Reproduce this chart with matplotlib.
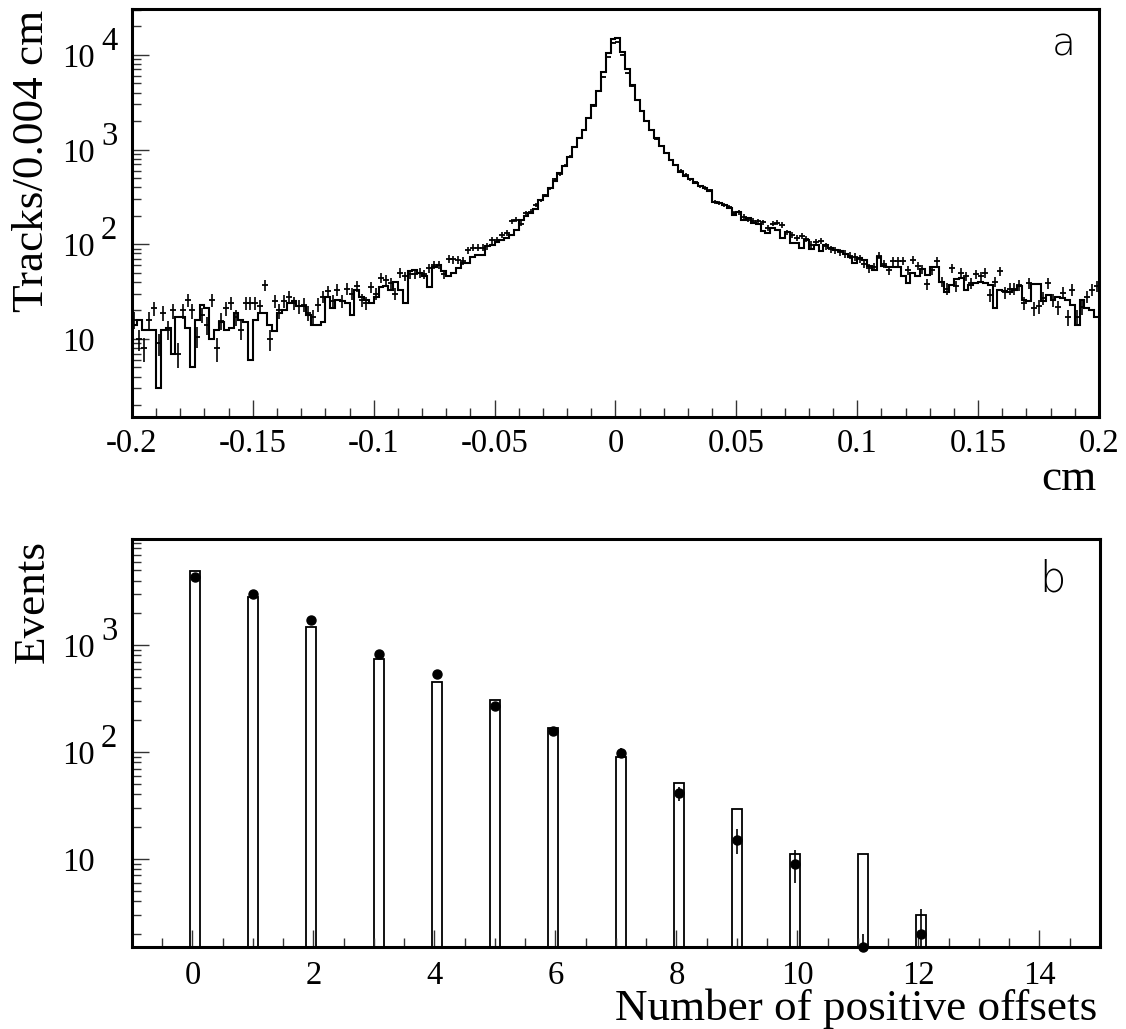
import numpy as np
import matplotlib
matplotlib.use("Agg")
import matplotlib.pyplot as plt
from matplotlib.transforms import offset_copy
from matplotlib.ticker import MultipleLocator, LogLocator, NullFormatter, FixedLocator

plt.rcParams['font.family'] = ['Liberation Serif', 'DejaVu Serif']

# ---- panel a : track offsets, 200 bins from -0.2 to 0.2 cm ----
mc_a = [14, 16, 12.5, 12.5, 12.5, 3, 12.5, 13, 7, 17,
        17, 13, 5, 16, 23, 21, 10, 12.5, 15, 12.5,
        13, 19, 16, 15, 6, 16, 19, 19, 14, 12,
        19, 20, 24, 25, 22, 22, 18, 14, 14, 15,
        28, 21, 26, 25, 24, 18, 33, 28, 26, 24,
        28, 35, 36, 33, 40, 33, 24, 52, 54, 50,
        46, 35, 58, 60, 52, 46, 50, 56, 64, 63,
        74, 77, 77, 95, 97, 105, 111, 116, 125, 142,
        181, 200, 216, 237, 290, 320, 390, 470, 560, 662,
        843, 1075, 1320, 1614, 2140, 2960, 4100, 6660, 10400, 14700,
        15000, 10800, 7050, 4820, 3340, 2580, 2020, 1614, 1320, 1094,
        916, 779, 690, 586, 528, 487, 442, 414, 392, 361,
        276, 273, 261, 241, 205, 217, 181, 188, 167, 165,
        137, 131, 148, 140, 116, 136, 103, 103, 91, 112,
        89, 99, 84, 99, 91, 86, 84, 79, 74, 63,
        71, 68, 59, 54, 74, 59, 58, 58, 58, 46,
        39, 50, 46, 55, 47, 58, 58, 40, 31, 37,
        43, 44, 33, 37, 39, 40, 39, 37, 21, 33,
        32, 31, 33, 36, 26, 25, 38, 38, 25, 29,
        26, 28, 27, 26, 23, 14, 26, 21, 20, 17]

data_a = [16, 10, 8, 16, 21, 9, 19, 12.5, 20, 7,
          20, 26, 20, 10.6, 18, 14, 26, 8, 15.5, 21,
          24, 17, 12.5, 24, 24, 24, 22, 37, 10, 25,
          20, 25, 28, 24, 22, 23, 19, 17, 23, 28,
          32, 25, 33, 25, 34, 30, 36, 26, 24, 35,
          30, 44, 42, 39, 30, 50, 46, 48, 48, 50,
          48, 56, 61, 61, 48, 70, 69, 68, 67, 87,
          92, 92, 92, 95, 110, 111, 125, 132, 174, 181,
          165, 213, 221, 260, 290, 327, 390, 487, 550, 677,
          843, 1075, 1320, 1614, 2140, 2850, 4190, 5900, 9500, 13400,
          13700, 10000, 6400, 4680, 3340, 2530, 1990, 1614, 1300, 1094,
          916, 779, 690, 600, 540, 487, 450, 407, 392, 370,
          282, 273, 261, 250, 213, 217, 195, 181, 178, 175,
          170, 148, 165, 169, 160, 133, 126, 116, 121, 113,
          99, 105, 108, 95, 89, 86, 82, 79, 76, 73,
          70, 62, 56, 58, 76, 62, 53, 66, 66, 67,
          53, 68, 59, 55, 38, 53, 66, 40, 34, 56,
          36, 50, 46, 39, 48, 46, 50, 29, 40, 52,
          31, 34, 34, 37, 24, 39, 21, 22, 27, 39,
          26, 21.5, 30.5, 17, 33, 17, 21.5, 28, 33, 36]

xticks_a = [-0.2, -0.15, -0.1, -0.05, 0, 0.05, 0.1, 0.15, 0.2]
xlabels_a = ['-0.2', '-0.15', '-0.1', '-0.05', '0', '0.05', '0.1', '0.15', '0.2']

# ---- panel b : number of positive offsets ----
n_off = np.arange(13)
mc_b = [4900, 2830, 1460, 735, 454, 306, 166, 90, 51, 29, 11, 11, 3]
data_b = [4350, 3000, 1715, 824, 535, 269, 157, 98, 41, 15, 9, 1, 2]
xticks_b = [0, 2, 4, 6, 8, 10, 12, 14]

fig = plt.figure(figsize=(11.26, 10.29), dpi=100)
ax1 = fig.add_axes([0.1172, 0.5948, 0.8588, 0.3965])
ax2 = fig.add_axes([0.1172, 0.0797, 0.8597, 0.3965])

LABEL_FS = 32.5
TICK_FS = 23.5


def style_axes(ax):
    for s in ax.spines.values():
        s.set_linewidth(2.2)
    ax.tick_params(which='both', direction='in', top=False, right=False, width=1.0, color='#333333')
    ax.tick_params(which='major', length=12)
    ax.tick_params(which='minor', length=6.5)
    ax.tick_params(axis='x', labelsize=TICK_FS, pad=8)
    ax.set_yscale('log')
    ax.yaxis.set_major_locator(LogLocator(base=10, numticks=20))
    ax.yaxis.set_minor_locator(LogLocator(base=10, subs=np.arange(2, 10), numticks=20))
    ax.yaxis.set_major_formatter(NullFormatter())
    ax.yaxis.set_minor_formatter(NullFormatter())


def log_labels(ax, exps):
    base = ax.get_yaxis_transform()
    t1 = offset_copy(base, fig=fig, x=-37, y=-12, units='dots')
    t2 = offset_copy(base, fig=fig, x=-31, y=5, units='dots')
    for e in exps:
        ax.text(0, 10.0 ** e, '10', transform=t1, ha='right', va='baseline', fontsize=TICK_FS)
        if e > 1:
            ax.text(0, 10.0 ** e, str(e), transform=t2, ha='left', va='baseline', fontsize=TICK_FS)


# panel a
mc_a = np.array(mc_a, dtype=float)
data_a = np.array(data_a, dtype=float)
edges_a = np.linspace(-0.2, 0.2, len(mc_a) + 1)
cent_a = 0.5 * (edges_a[1:] + edges_a[:-1])

style_axes(ax1)
ax1.stairs(mc_a, edges_a, color='k', lw=1.5, baseline=None)
ax1.errorbar(cent_a, data_a, yerr=0.8 * np.sqrt(data_a), fmt='_', ms=5, mew=1.3,
             color='k', elinewidth=1.2, capsize=0)
ax1.set_xlim(-0.2, 0.2)
ax1.set_ylim(1.5, 3.05e4)
ax1.xaxis.set_major_locator(FixedLocator(xticks_a))
ax1.set_xticklabels(xlabels_a)
ax1.xaxis.set_minor_locator(MultipleLocator(0.01))
log_labels(ax1, [1, 2, 3, 4])
ax1.text(0.964, 0.912, 'a', transform=ax1.transAxes, ha='center', va='center',
         fontsize=28, family='DejaVu Sans', fontweight='light')

# panel b: 100 bins from -1 to 15
edges_b = np.linspace(-1, 15, 101)
idx = np.digitize(n_off + 1e-9, edges_b) - 1
left_b = edges_b[idx]
wid_b = edges_b[1] - edges_b[0]
cent_b = left_b + wid_b / 2
ylo_b = 1.5
data_b = np.array(data_b, dtype=float)

style_axes(ax2)
ax2.bar(left_b, mc_b, width=wid_b, align='edge', bottom=1e-3, fill=False,
        edgecolor='k', lw=1.3, zorder=1)
ax2.errorbar(cent_b, data_b, yerr=np.sqrt(data_b), fmt='none', ecolor='k',
             elinewidth=1.2, capsize=0, zorder=3)
ax2.plot(cent_b, np.maximum(data_b, ylo_b), 'o', color='k', ms=6.5, clip_on=False, zorder=4)
ax2.set_xlim(-1, 15)
ax2.set_ylim(ylo_b, 9800)
ax2.xaxis.set_major_locator(FixedLocator(xticks_b))
ax2.set_xticklabels([str(v) for v in xticks_b])
ax2.xaxis.set_minor_locator(MultipleLocator(0.5))
ax2.tick_params(axis='x', pad=10)
log_labels(ax2, [1, 2, 3])
ax2.text(0.951, 0.902, 'b', transform=ax2.transAxes, ha='center', va='center',
         fontsize=30, family='DejaVu Sans', fontweight='light')

# axis titles (ROOT style, aligned to the axis ends)
fig.text(0.0284, 0.9903, 'Tracks/0.004 cm', rotation=90, ha='center', va='top', fontsize=LABEL_FS)
fig.text(0.9742, 0.5238, 'cm', ha='right', va='baseline', fontsize=LABEL_FS)
fig.text(0.0293, 0.4752, 'Events', rotation=90, ha='center', va='top', fontsize=LABEL_FS)
fig.text(0.9742, 0.0085, 'Number of positive offsets', ha='right', va='baseline', fontsize=LABEL_FS)

fig.savefig('out.png', dpi=100)
